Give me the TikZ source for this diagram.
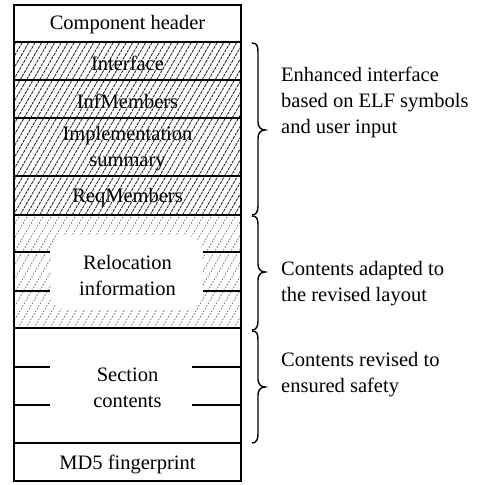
\documentclass[tikz,border=0pt]{standalone}
\usepackage{fontspec}
\setmainfont{Liberation Serif}
\begin{document}
\begin{tikzpicture}[x=1pt,y=-1pt,
  every node/.style={font=\fontsize{20.5}{26}\selectfont, inner sep=0pt},
  frame/.style={line width=1.9pt},
  sep/.style={line width=1.6pt},
  hatch/.style={black!90, line width=0.8pt, dash pattern=on 3pt off 1pt},
  lighthatch/.style={black!65, line width=0.65pt, dash pattern=on 1.5pt off 1.6pt},
  bracestyle/.style={line width=1.4pt},
  lbl/.style={align=center},
  note/.style={anchor=west, align=left}]
\useasboundingbox (0,0) rectangle (482,485);

% hatching of enhanced interface rows
\begin{scope}
  \clip (14,42) rectangle (241,215);
  \foreach \x in {-110,-103.5,...,245} {
    \draw[hatch] (\x,215) -- ({\x+100},42);
  }
\end{scope}
% light hatching of relocation rows
\begin{scope}
  \clip (14,215) rectangle (241,328);
  \foreach \x in {-70,-62,...,245} {
    \draw[lighthatch] (\x,328) -- ({\x+66},215);
  }
\end{scope}
\fill[white, rounded corners=14pt] (51,236) rectangle (202,309);

% outer frame and row separators
\draw[frame] (14,5) rectangle (241,481);
\draw[sep] (14,42) -- (241,42);
\draw[sep] (14,80) -- (241,80);
\draw[sep] (14,118) -- (241,118);
\draw[sep] (14,176) -- (241,176);
\draw[sep] (14,215) -- (241,215);
\draw[sep] (14,328) -- (241,328);
\draw[sep] (14,443) -- (241,443);
% short separators
\draw[sep] (14,252) -- (50,252);
\draw[sep] (14,291) -- (50,291);
\draw[sep] (203,252) -- (241,252);
\draw[sep] (203,291) -- (241,291);
\draw[sep] (14,367) -- (50,367);
\draw[sep] (14,405) -- (50,405);
\draw[sep] (192,367) -- (241,367);
\draw[sep] (192,405) -- (241,405);

% row labels
\node[lbl] (hdr) at (127.5,25) {Component header};
\node[lbl] (intf) at (127.5,63) {Interface};
\node[lbl] (infm) at (127.5,101) {InfMembers};
\node[lbl] (impl) at (127.5,149) {Implementation\\summary};
\node[lbl] (reqm) at (127.5,198) {ReqMembers};
\node[lbl] (reloc) at (127.5,275) {Relocation\\information};
\node[lbl] (sect) at (127.5,388) {Section\\contents};
\node[lbl] (md5) at (127.5,464) {MD5 fingerprint};

% braces
\draw[bracestyle] (252,43) .. controls (257,43) and (258,46) .. (258,52)
  -- (258,122) .. controls (258,127) and (261,130) .. (265,130)
  .. controls (261,130) and (258,133) .. (258,138)
  -- (258,206) .. controls (258,212) and (256,215) .. (252,215);
\draw[bracestyle] (252,216) .. controls (257,216) and (258,219) .. (258,225)
  -- (258,264) .. controls (258,269) and (261,272) .. (265,272)
  .. controls (261,272) and (258,275) .. (258,280)
  -- (258,321) .. controls (258,327) and (256,330) .. (252,330);
\draw[bracestyle] (252,331) .. controls (257,331) and (258,334) .. (258,340)
  -- (258,379) .. controls (258,384) and (261,387) .. (265,387)
  .. controls (261,387) and (258,390) .. (258,395)
  -- (258,434) .. controls (258,440) and (256,443) .. (252,443);

% annotations
\node[note] (n1) at (281,102) {Enhanced interface\\based on ELF symbols\\and user input};
\node[note] (n2) at (281,284) {Contents adapted to\\the revised layout};
\node[note] (n3) at (281,375) {Contents revised to\\ensured safety};
\end{tikzpicture}
\end{document}
